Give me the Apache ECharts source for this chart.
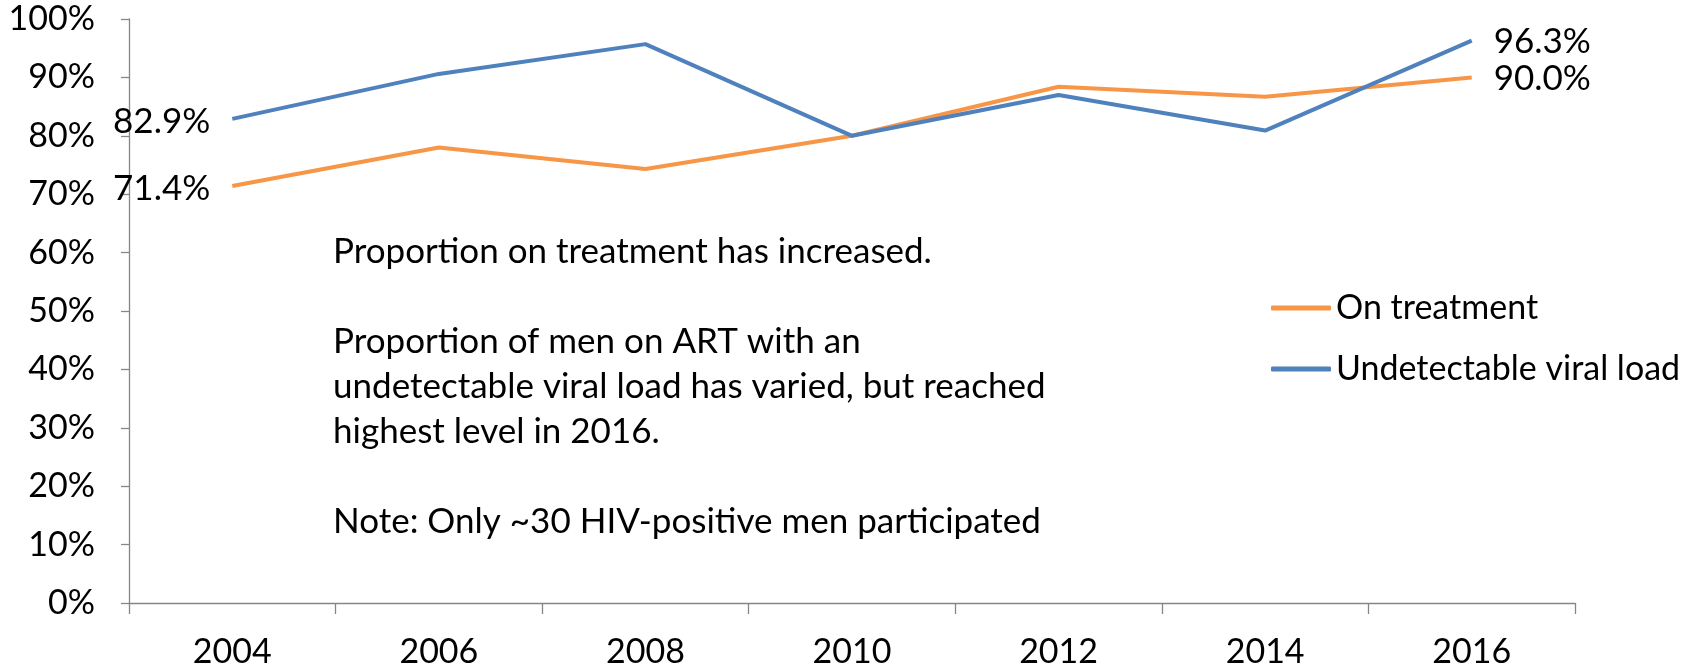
<!DOCTYPE html>
<html>
<head>
<meta charset="utf-8">
<style>
  html, body { margin: 0; padding: 0; background: #fff; }
  #chart { width: 1698px; height: 669px; }
</style>
<script src="https://cdn.jsdelivr.net/npm/echarts@6/dist/echarts.min.js"></script>
</head>
<body>
<div id="chart"></div>
<script>
// survey years
const years = ["2004", "2006", "2008", "2010", "2012", "2014", "2016"];
// percent of HIV-positive men on treatment
const onTreatment = [71.4, 78.0, 74.3, 80.0, 88.4, 86.7, 90.0];
// percent of men on ART with undetectable viral load
const undetectable = [82.9, 90.6, 95.7, 80.0, 87.0, 80.9, 96.3];
const yTicks = [0, 100, 10]; // min, max, step

const FONT = "Lato";

// only first and last points carry a label
const withEndLabels = (vals) =>
  vals.map((v, i) => {
    if (i === 0) return { value: v, label: { show: true, position: "left", distance: 22, offset: [0, 3] } };
    if (i === vals.length - 1) return { value: v, label: { show: true, position: "right", distance: 22, offset: [0, 1] } };
    return v;
  });

const mychart = echarts.init(document.getElementById("chart"));
mychart.setOption({
  animation: false,
  textStyle: { fontFamily: FONT },
  grid: { left: 129, right: 123, top: 19, bottom: 65, containLabel: false },
  legend: {
    orient: "vertical",
    left: 1266,
    top: 283,
    itemWidth: 60,
    itemHeight: 5,
    itemGap: 21,
    itemTextGap: 2,
    icon: "roundRect",
    textStyle: { fontFamily: FONT, fontSize: 34, color: "#000", lineHeight: 40 },
    data: ["On treatment", "Undetectable viral load"],
  },
  xAxis: {
    type: "category",
    data: years,
    boundaryGap: true,
    axisLine: { lineStyle: { color: "#868686", width: 1.3 } },
    axisTick: { show: true, interval: 0, length: 11, lineStyle: { color: "#868686", width: 1.3 } },
    axisLabel: { color: "#000", fontSize: 34, fontFamily: FONT, margin: 32 },
    splitLine: { show: false },
  },
  yAxis: {
    type: "value",
    min: yTicks[0],
    max: yTicks[1],
    interval: yTicks[2],
    axisLine: { show: true, lineStyle: { color: "#868686", width: 1.3 } },
    axisTick: { show: true, length: 8, lineStyle: { color: "#868686", width: 1.3 } },
    axisLabel: { color: "#000", fontSize: 34, fontFamily: FONT, margin: 34, formatter: "{value}%" },
    splitLine: { show: false },
  },
  graphic: [
    {
      type: "text",
      left: 333,
      top: 229,
      style: {
        text:
          "Proportion on treatment has increased.\n\n" +
          "Proportion of men on ART with an\n" +
          "undetectable viral load has varied, but reached\n" +
          "highest level in 2016.\n\n" +
          "Note: Only ~30 HIV-positive men participated",
        font: "35px " + FONT,
        lineHeight: 45,
        fill: "#000",
      },
    },
  ],
  series: [
    {
      name: "On treatment",
      type: "line",
      symbol: "circle",
      symbolSize: 0,
      showSymbol: true,
      data: withEndLabels(onTreatment),
      lineStyle: { color: "#F79646", width: 4 },
      itemStyle: { color: "#F79646" },
      label: { show: false, color: "#000", fontSize: 35, fontFamily: FONT, formatter: (p) => p.value.toFixed(1) + "%" },
      z: 2,
    },
    {
      name: "Undetectable viral load",
      type: "line",
      symbol: "circle",
      symbolSize: 0,
      showSymbol: true,
      data: withEndLabels(undetectable),
      lineStyle: { color: "#4F81BD", width: 4 },
      itemStyle: { color: "#4F81BD" },
      label: { show: false, color: "#000", fontSize: 35, fontFamily: FONT, formatter: (p) => p.value.toFixed(1) + "%" },
      z: 3,
    },
  ],
});
</script>
</body>
</html>
